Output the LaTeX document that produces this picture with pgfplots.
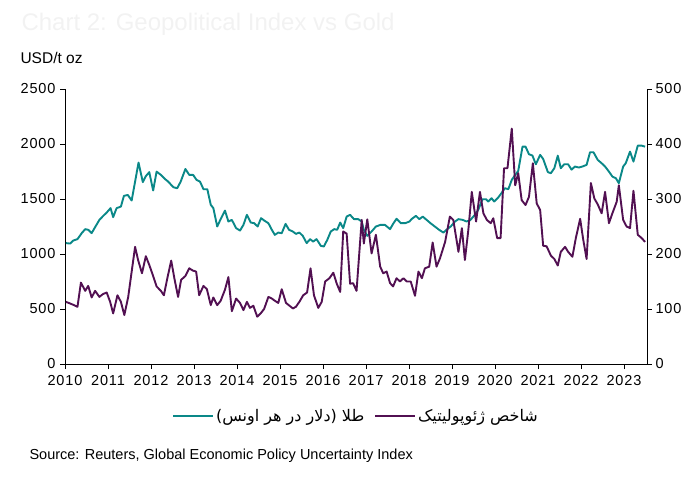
\documentclass[border=0pt]{standalone}
\usepackage{pgfplots}
\pgfplotsset{compat=1.18}
\usepackage{fontspec}
\setmainfont{Liberation Sans}
\newfontfamily\tickfont[LetterSpace=6]{Liberation Sans}
\newfontfamily\arabicfont[Script=Arabic]{DejaVu Sans}
\TeXXeTstate=1
\definecolor{goldteal}{RGB}{10,136,136}
\definecolor{geopurple}{RGB}{82,16,82}

\pgfplotstableread{
x y
2010.02 1099
2010.12 1095
2010.19 1122
2010.29 1135
2010.39 1190
2010.47 1226
2010.54 1220
2010.62 1190
2010.70 1244
2010.80 1310
2010.89 1347
2010.97 1377
2011.06 1417
2011.12 1335
2011.20 1417
2011.30 1431
2011.37 1528
2011.46 1537
2011.55 1486
2011.63 1658
2011.71 1831
2011.81 1653
2011.88 1708
2011.96 1744
2012.05 1577
2012.13 1749
2012.23 1719
2012.33 1680
2012.40 1658
2012.52 1607
2012.61 1598
2012.69 1658
2012.80 1773
2012.89 1719
2012.98 1719
2013.06 1673
2013.14 1658
2013.22 1589
2013.31 1589
2013.39 1447
2013.45 1417
2013.54 1250
2013.62 1317
2013.72 1395
2013.80 1295
2013.88 1310
2013.98 1235
2014.07 1213
2014.15 1265
2014.23 1356
2014.32 1286
2014.40 1280
2014.48 1250
2014.56 1326
2014.63 1305
2014.73 1280
2014.81 1220
2014.88 1174
2014.96 1195
2015.04 1189
2015.13 1274
2015.21 1220
2015.30 1204
2015.37 1183
2015.45 1195
2015.53 1165
2015.62 1099
2015.70 1135
2015.77 1113
2015.85 1135
2015.95 1074
2016.02 1068
2016.10 1129
2016.18 1204
2016.26 1226
2016.33 1220
2016.40 1286
2016.47 1235
2016.55 1340
2016.63 1356
2016.72 1317
2016.82 1317
2016.90 1295
2016.95 1220
2017.03 1165
2017.13 1204
2017.23 1250
2017.34 1265
2017.44 1265
2017.56 1226
2017.63 1274
2017.71 1320
2017.81 1280
2017.91 1280
2018.01 1295
2018.06 1317
2018.16 1347
2018.24 1317
2018.32 1340
2018.41 1310
2018.50 1280
2018.60 1250
2018.70 1220
2018.80 1195
2018.89 1226
2018.97 1250
2019.07 1295
2019.15 1317
2019.25 1310
2019.34 1295
2019.43 1310
2019.53 1356
2019.61 1401
2019.71 1498
2019.79 1498
2019.84 1477
2019.92 1507
2019.98 1477
2020.08 1516
2020.16 1558
2020.23 1598
2020.31 1589
2020.39 1674
2020.47 1719
2020.54 1755
2020.64 1976
2020.71 1976
2020.79 1907
2020.87 1895
2020.95 1816
2021.05 1901
2021.12 1864
2021.23 1744
2021.30 1735
2021.38 1780
2021.46 1894
2021.53 1780
2021.61 1816
2021.70 1816
2021.78 1767
2021.86 1795
2021.95 1786
2022.03 1795
2022.13 1810
2022.21 1925
2022.29 1925
2022.39 1855
2022.48 1825
2022.56 1795
2022.65 1749
2022.73 1704
2022.81 1689
2022.88 1644
2022.98 1795
2023.04 1825
2023.14 1931
2023.22 1840
2023.32 1985
2023.41 1985
2023.49 1976
}\goldtable

\pgfplotstableread{
x y
2010.02 113
2010.12 110
2010.21 107
2010.29 104
2010.37 148
2010.47 133
2010.54 142
2010.62 121
2010.70 133
2010.80 122
2010.88 127
2010.97 130
2011.05 113
2011.12 92
2011.22 125
2011.30 113
2011.38 89
2011.47 122
2011.54 162
2011.63 213
2011.70 189
2011.79 165
2011.88 196
2011.96 180
2012.05 160
2012.13 141
2012.23 133
2012.30 125
2012.38 156
2012.47 188
2012.55 153
2012.63 122
2012.70 153
2012.80 160
2012.89 174
2012.97 170
2013.05 168
2013.12 125
2013.22 142
2013.30 136
2013.39 107
2013.45 121
2013.54 107
2013.62 115
2013.72 135
2013.80 158
2013.88 96
2013.98 119
2014.07 111
2014.15 98
2014.23 113
2014.30 102
2014.38 106
2014.47 86
2014.55 92
2014.63 100
2014.73 122
2014.81 119
2014.88 115
2014.96 111
2015.04 136
2015.14 111
2015.22 106
2015.30 101
2015.37 104
2015.45 113
2015.54 125
2015.63 130
2015.71 174
2015.79 125
2015.89 102
2015.97 113
2016.05 150
2016.15 156
2016.24 166
2016.32 146
2016.40 131
2016.47 241
2016.55 237
2016.63 146
2016.70 147
2016.78 133
2016.90 262
2016.95 219
2017.03 263
2017.13 201
2017.23 235
2017.33 177
2017.40 165
2017.48 168
2017.56 147
2017.63 141
2017.71 156
2017.79 150
2017.87 156
2017.95 150
2018.04 150
2018.14 124
2018.22 168
2018.30 156
2018.37 174
2018.47 177
2018.55 221
2018.64 177
2018.72 192
2018.84 222
2018.95 268
2019.03 262
2019.15 204
2019.23 247
2019.30 189
2019.38 244
2019.46 313
2019.56 259
2019.65 313
2019.73 274
2019.81 262
2019.90 256
2019.96 265
2020.05 229
2020.13 229
2020.21 356
2020.29 356
2020.39 428
2020.47 325
2020.54 347
2020.62 298
2020.71 289
2020.79 304
2020.88 365
2020.97 292
2021.05 280
2021.12 215
2021.20 214
2021.30 197
2021.38 191
2021.46 179
2021.53 204
2021.63 213
2021.70 204
2021.80 195
2021.88 229
2021.98 264
2022.05 227
2022.13 191
2022.23 329
2022.31 301
2022.39 290
2022.48 274
2022.56 313
2022.65 256
2022.73 274
2022.83 295
2022.88 325
2022.98 262
2023.06 250
2023.14 247
2023.22 315
2023.32 235
2023.41 229
2023.49 222
}\geotable

\begin{document}
\begin{tikzpicture}
\useasboundingbox (-65pt,-112pt) rectangle (635pt,364pt);
\pgfplotsset{
  common/.style={
    scale only axis, width=582pt, height=275pt,
    at={(0pt,0pt)}, anchor=south west,
    xmin=2010, xmax=2023.535,
    tick align=outside, major tick length=5pt,
    tick style={black, line width=0.8pt},
    axis line style={black, line width=0.8pt, -},
    ticklabel style={font=\tickfont\fontsize{14.5}{17}\selectfont},
    /pgf/number format/assume math mode=true,
    /pgf/number format/1000 sep={},
    clip=false,
  }
}
\node[anchor=west, text=black!5, font=\fontsize{24}{28}\selectfont] at (-47pt,340pt) {Chart 2: Geopolitical Index vs Gold};
\node[anchor=west, font=\fontsize{15.5}{18}\selectfont] at (-48pt,306pt) {USD/t oz};
\begin{axis}[common,
  ymin=0, ymax=2500,
  axis y line*=left, axis x line*=bottom,
  xtick={2010,2011,...,2023}, ytick={0,500,...,2500},
  xticklabel style={yshift=-3pt},
  yticklabel style={xshift=-1pt},
]
\addplot[goldteal, line width=1.9pt, line join=round] table[x=x, y=y] {\goldtable};
\end{axis}
\begin{axis}[common,
  ymin=0, ymax=500,
  axis y line*=right, axis x line=none,
  ytick={0,100,...,500},
  yticklabel style={xshift=0pt},
  legend style={at={(0.5,-0.19)}, anchor=center, draw=none, fill=none,
    legend columns=2, font=\fontsize{16}{19}\selectfont,
    /tikz/every even column/.append style={column sep=8pt},
    cells={anchor=west}},
  legend image code/.code={\draw[#1, line width=1.9pt] (0pt,0pt) -- (40pt,0pt);},
]
\addlegendimage{goldteal}
\addlegendentry{\arabicfont\beginR طلا (دلار در هر اونس)\endR}
\addplot[geopurple, line width=1.9pt, line join=round] table[x=x, y=y] {\geotable};
\addlegendentry{\arabicfont\beginR شاخص ژئوپولیتیک\endR}
\end{axis}
\node[anchor=west, font=\fontsize{14.5}{17}\selectfont] at (-39pt,-92pt) {Source: Reuters, Global Economic Policy Uncertainty Index};
\end{tikzpicture}
\end{document}
